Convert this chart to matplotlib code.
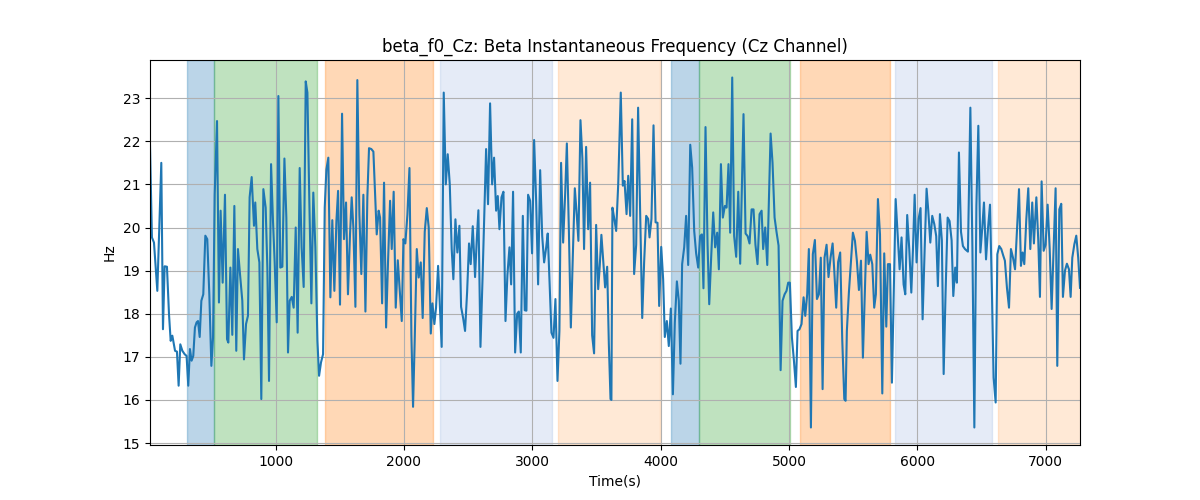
import matplotlib
matplotlib.use("Agg")
import matplotlib.pyplot as plt

times = [22, 37, 53, 79, 110, 123, 136, 154, 170, 183, 196, 206, 217, 232, 245, 258, 274, 292, 307, 320,
         333, 346, 359, 372, 385, 396, 409, 422, 437, 453, 468, 484, 500, 513, 526, 544, 559, 572, 588, 606,
         622, 632, 648, 663, 679, 694, 707, 723, 741, 754, 770, 785, 798, 814, 832, 842, 858, 874, 889, 905,
         923, 936, 949, 965, 980, 993, 1009, 1022, 1037, 1053, 1069, 1084, 1097, 1110, 1126, 1141, 1157, 1172, 1188, 1203,
         1219, 1235, 1248, 1263, 1279, 1294, 1310, 1326, 1339, 1354, 1370, 1383, 1396, 1411, 1427, 1442, 1458, 1474, 1487, 1502,
         1518, 1533, 1549, 1564, 1580, 1593, 1606, 1622, 1637, 1653, 1668, 1684, 1700, 1715, 1728, 1746, 1762, 1775, 1788, 1803,
         1814, 1830, 1845, 1861, 1876, 1892, 1905, 1920, 1936, 1952, 1968, 1983, 1996, 2011, 2027, 2043, 2058, 2071, 2084, 2100,
         2115, 2131, 2146, 2162, 2178, 2193, 2209, 2222, 2237, 2250, 2266, 2281, 2294, 2310, 2326, 2341, 2357, 2372, 2385, 2401,
         2416, 2432, 2445, 2461, 2476, 2492, 2507, 2520, 2536, 2554, 2567, 2580, 2596, 2612, 2627, 2640, 2655, 2671, 2687, 2702,
         2718, 2731, 2744, 2760, 2775, 2791, 2806, 2822, 2835, 2850, 2866, 2882, 2895, 2910, 2926, 2941, 2954, 2967, 2983, 2998,
         3014, 3030, 3045, 3061, 3077, 3092, 3108, 3120, 3136, 3149, 3165, 3180, 3196, 3211, 3224, 3240, 3256, 3269, 3285, 3300,
         3316, 3331, 3346, 3359, 3375, 3390, 3403, 3419, 3435, 3450, 3466, 3481, 3497, 3513, 3525, 3538, 3553, 3567, 3583, 3596,
         3609, 3616, 3624, 3637, 3653, 3669, 3689, 3705, 3718, 3734, 3747, 3762, 3778, 3793, 3809, 3824, 3840, 3856, 3871, 3887,
         3902, 3913, 3928, 3944, 3960, 3975, 3988, 4004, 4019, 4032, 4048, 4063, 4079, 4095, 4110, 4126, 4141, 4154, 4167, 4183,
         4198, 4214, 4230, 4245, 4261, 4276, 4292, 4307, 4321, 4333, 4349, 4365, 4378, 4393, 4409, 4424, 4440, 4453, 4469, 4484,
         4500, 4513, 4528, 4541, 4557, 4572, 4588, 4604, 4619, 4645, 4661, 4677, 4692, 4708, 4723, 4738, 4754, 4770, 4786, 4798,
         4814, 4830, 4856, 4871, 4887, 4902, 4918, 4934, 4949, 4965, 4980, 4993, 5006, 5022, 5038, 5053, 5066, 5081, 5097, 5113,
         5126, 5141, 5154, 5170, 5185, 5201, 5217, 5232, 5247, 5261, 5276, 5292, 5307, 5323, 5339, 5352, 5367, 5382, 5398, 5414,
         5430, 5440, 5450, 5466, 5482, 5497, 5513, 5528, 5544, 5560, 5575, 5590, 5604, 5619, 5632, 5648, 5663, 5676, 5692, 5708,
         5726, 5741, 5757, 5770, 5786, 5801, 5816, 5830, 5846, 5861, 5876, 5892, 5905, 5920, 5936, 5952, 5965, 5978, 5993, 6009,
         6024, 6040, 6056, 6071, 6084, 6100, 6115, 6131, 6146, 6159, 6175, 6190, 6204, 6219, 6235, 6250, 6266, 6279, 6294, 6307,
         6323, 6339, 6354, 6370, 6393, 6412, 6428, 6443, 6459, 6474, 6490, 6505, 6518, 6534, 6550, 6565, 6580, 6593, 6609, 6622,
         6637, 6653, 6668, 6681, 6697, 6713, 6728, 6744, 6760, 6776, 6791, 6806, 6819, 6832, 6848, 6863, 6879, 6894, 6907, 6926,
         6941, 6954, 6967, 6983, 6998, 7014, 7030, 7045, 7060, 7076, 7089, 7105, 7120, 7133, 7149, 7164, 7180, 7193, 7206, 7222,
         7237, 7252, 7266]

freq_hz = [21.9, 19.77, 19.65, 18.53, 21.5, 17.64, 19.1, 19.09, 17.99, 17.37, 17.49, 17.33, 17.14, 17.12, 16.33, 17.29, 17.14, 17.06, 17.02, 16.33,
           17.18, 16.91, 17.02, 17.68, 17.8, 17.83, 17.46, 18.3, 18.45, 19.81, 19.73, 18.45, 16.79, 17.45, 20.77, 22.47, 18.26, 20.39, 18.72, 20.76,
           17.41, 17.33, 19.07, 17.51, 20.5, 17.14, 19.5, 18.92, 18.3, 16.94, 17.76, 17.95, 20.7, 21.17, 20.04, 20.58, 19.5, 19.19, 16.02, 20.89,
           20.46, 19.07, 16.44, 21.47, 20.15, 19.2, 17.8, 23.05, 19.07, 19.09, 21.6, 20.23, 17.1, 18.3, 18.39, 18.14, 20.0, 17.56, 21.38, 19.54,
           18.62, 23.39, 23.13, 20.62, 18.24, 20.81, 19.54, 17.37, 16.56, 16.87, 17.06, 20.46, 21.35, 21.62, 18.38, 20.17, 18.53, 20.15, 20.85, 18.21,
           22.64, 19.73, 20.58, 18.45, 19.84, 20.7, 20.0, 18.16, 23.42, 20.3, 18.92, 20.76, 18.05, 20.7, 21.84, 21.82, 21.76, 20.8, 19.84, 20.39,
           20.23, 18.24, 21.04, 17.68, 19.2, 20.62, 19.5, 20.83, 18.14, 19.24, 18.5, 17.83, 19.73, 19.63, 20.3, 21.38, 17.5, 15.84, 17.4, 19.5,
           18.84, 19.19, 17.9, 19.9, 20.45, 20.0, 17.54, 18.24, 17.76, 18.14, 19.11, 18.1, 17.23, 23.13, 21.0, 21.7, 21.0, 19.5, 18.8, 20.19,
           19.42, 20.04, 18.16, 17.9, 17.6, 18.5, 19.63, 19.15, 20.03, 18.85, 19.7, 20.4, 17.23, 18.8, 20.4, 21.82, 20.54, 22.88, 21.0, 21.62,
           20.39, 20.73, 19.96, 20.7, 20.83, 17.83, 18.9, 19.54, 18.68, 20.83, 17.1, 18.0, 18.05, 17.1, 20.27, 18.08, 18.07, 20.76, 20.62, 19.4,
           22.03, 20.6, 18.68, 21.33, 19.8, 19.19, 19.54, 19.86, 18.6, 17.56, 17.44, 18.34, 16.44, 17.6, 21.5, 19.65, 20.8, 21.95, 19.9, 17.68,
           19.4, 20.91, 20.3, 19.69, 22.49, 21.6, 19.5, 21.87, 19.96, 21.04, 17.5, 17.08, 20.06, 18.57, 19.1, 19.83, 19.2, 18.61, 19.09, 17.3,
           16.02, 16.0, 20.46, 20.23, 19.92, 21.0, 23.13, 20.97, 21.08, 20.31, 21.2, 20.27, 22.51, 18.92, 19.6, 22.78, 20.3, 17.9, 19.2, 20.27,
           20.2, 19.77, 20.2, 22.37, 20.12, 20.11, 18.18, 19.55, 18.8, 17.46, 17.83, 17.25, 18.12, 16.13, 17.8, 18.75, 18.3, 16.84, 19.15, 19.54,
           20.27, 19.13, 21.92, 21.39, 19.92, 19.4, 19.07, 19.8, 19.84, 18.59, 22.33, 19.6, 18.22, 19.3, 20.35, 19.54, 19.88, 19.03, 21.47, 20.23,
           20.5, 20.46, 21.47, 19.88, 23.48, 19.8, 19.32, 20.83, 19.16, 22.63, 19.86, 19.8, 19.63, 20.42, 20.42, 19.6, 19.15, 20.31, 20.39, 19.5,
           20.0, 19.13, 22.18, 21.5, 20.23, 19.9, 19.58, 16.69, 18.3, 18.45, 18.53, 18.72, 18.72, 17.45, 16.9, 16.3, 17.6, 17.64, 17.76, 18.38,
           17.95, 18.45, 19.5, 15.36, 19.38, 19.71, 18.34, 18.45, 19.3, 16.25, 19.3, 19.6, 18.85, 19.3, 19.63, 19.0, 18.14, 19.2, 19.42, 17.4,
           16.02, 15.98, 17.6, 18.5, 19.2, 19.88, 19.69, 19.23, 18.55, 19.23, 16.98, 18.5, 19.9, 19.15, 19.37, 19.15, 18.14, 18.45, 20.66, 19.84,
           16.15, 19.4, 17.7, 19.15, 19.15, 16.4, 18.6, 20.66, 19.8, 19.03, 19.77, 18.68, 18.45, 20.29, 19.5, 18.49, 19.5, 20.76, 19.19, 20.2,
           20.45, 17.87, 19.5, 20.9, 20.4, 19.65, 20.27, 20.08, 19.8, 18.64, 20.31, 19.7, 16.6, 18.5, 20.23, 20.15, 19.7, 18.41, 19.07, 18.72,
           21.74, 19.9, 19.57, 19.5, 19.44, 22.78, 19.5, 15.36, 20.5, 22.36, 19.42, 20.0, 20.58, 19.26, 20.0, 20.53, 18.5, 16.52, 15.94, 19.38,
           19.57, 19.5, 19.35, 19.23, 18.6, 18.14, 19.5, 19.3, 19.03, 20.0, 20.89, 19.11, 19.42, 19.15, 20.2, 20.91, 19.5, 20.58, 19.63, 20.7,
           19.7, 18.39, 21.07, 19.46, 19.6, 20.53, 19.5, 18.11, 19.5, 20.91, 16.79, 20.42, 20.55, 18.39, 19.0, 19.16, 19.03, 18.39, 19.3, 19.61,
           19.81, 19.3, 18.6]

span_starts = [311, 518, 1385, 2282, 3201, 4084, 4295, 5087, 5825, 6630]
span_ends = [518, 1321, 2224, 3152, 3997, 4295, 5004, 5786, 6581, 7300]
span_colors = ["tab:blue", "tab:green", "tab:orange", "#3a6cc4", "tab:orange",
               "tab:blue", "tab:green", "tab:orange", "#3a6cc4", "tab:orange"]
span_alphas = [0.3, 0.3, 0.3, 0.13, 0.17, 0.3, 0.3, 0.3, 0.13, 0.17]

fig, ax = plt.subplots(figsize=(12, 5), dpi=100)
for s, e, c, a in zip(span_starts, span_ends, span_colors, span_alphas):
    ax.axvspan(s, e, color=c, alpha=a)
ax.plot(times, freq_hz, color="tab:blue", linewidth=1.5)
ax.set_xlim(times[0], times[-1])
ax.set_title("beta_f0_Cz: Beta Instantaneous Frequency (Cz Channel)")
ax.set_xlabel("Time(s)")
ax.set_ylabel("Hz")
ax.grid(True)
fig.savefig("out.png", dpi=100)
